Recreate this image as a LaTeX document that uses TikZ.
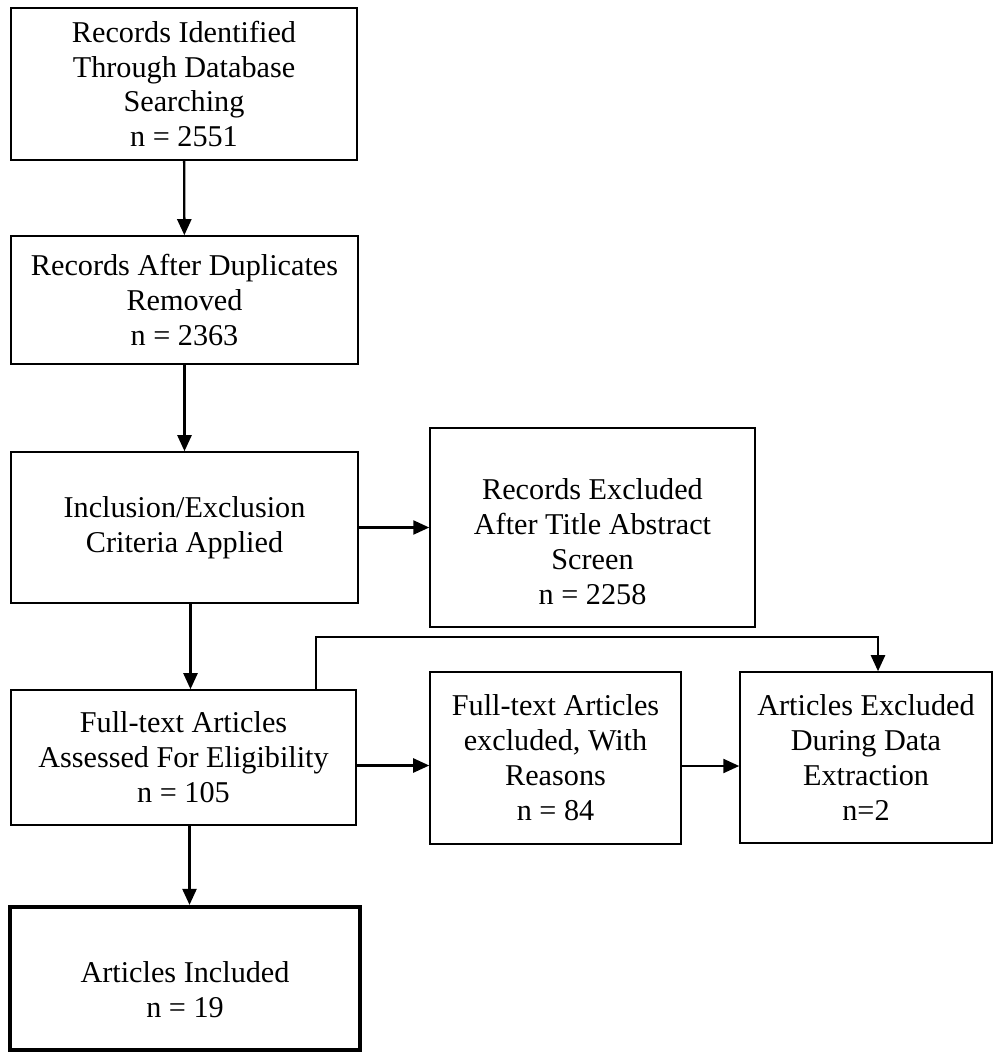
\documentclass[tikz,border=0pt]{standalone}
\usepackage{fontspec}
\setmainfont{Liberation Serif}
\usepackage{tikz}
\usetikzlibrary{arrows.meta,positioning,calc}

\tikzset{
    box/.style={draw,line width=0.9pt,rectangle,align=center,inner sep=2pt,
        font=\fontsize{17.2}{19.9}\selectfont},
    finalbox/.style={box,line width=2.4pt},
    arr/.style={-{Triangle[length=0.32cm,width=0.28cm]},line width=1.35pt}
}

\begin{document}
\begin{tikzpicture}[x=0.02cm,y=-0.02cm]
        \useasboundingbox (0,0) rectangle (993,1053);

        % Left column boxes
        \node[box,minimum width=6.92cm,minimum height=3.04cm] (ident) at (184,84)
            {Records Identified\\Through Database\\Searching\\n = 2551};
        \node[box,minimum width=6.94cm,minimum height=2.56cm] (dup) at (184.5,300)
            {Records After Duplicates\\Removed\\n = 2363};
        \node[box,minimum width=6.94cm,minimum height=3.02cm] (crit) at (184.5,527.5)
            {Inclusion/Exclusion\\Criteria Applied};
        \node[box,minimum width=6.9cm,minimum height=2.7cm] (full) at (183.5,757.5)
            {Full-text Articles\\Assessed For Eligibility\\n = 105};
        \node[finalbox,minimum width=7cm,minimum height=2.86cm] (incl) at (185,978.5)
            {\rule{0pt}{0.88cm}Articles Included\\n = 19};

        % Right side boxes
        \node[box,minimum width=6.5cm,minimum height=3.98cm] (titleexcl) at (592.5,527.5)
            {\rule{0pt}{1cm}Records Excluded\\After Title Abstract\\Screen\\n = 2258};
        \node[box,minimum width=5.02cm,minimum height=3.44cm] (ftexcl) at (555.5,758)
            {Full-text Articles\\excluded, With\\Reasons\\n = 84};
        \node[box,minimum width=5.04cm,minimum height=3.42cm] (dataexcl) at (866,757.5)
            {Articles Excluded\\During Data\\Extraction\\n=2};

        % Corners of the bent arrow
        \coordinate (elbow) at (316,637);
        \coordinate (drop) at (878,637);

        % Arrows down the left column
        \draw[arr] (ident) -- (dup);
        \draw[arr] (dup) -- (crit);
        \draw[arr] ([xshift=0.12cm]crit.south) -- ([xshift=0.12cm]crit.south |- full.north);
        \draw[arr] ([xshift=0.12cm]full.south) -- ([xshift=0.12cm]full.south |- incl.north);

        % Arrows to the right
        \draw[arr] (crit.east) -- (titleexcl.west);
        \draw[arr] ([yshift=-0.16cm]full.east) -- ([yshift=-0.16cm]full.east -| ftexcl.west);
        \draw[arr] ([yshift=-0.16cm]ftexcl.east) -- ([yshift=-0.16cm]ftexcl.east -| dataexcl.west);
        \draw[arr] (full.north -| elbow) -- (elbow) -- (drop) -- (dataexcl.north -| drop);
\end{tikzpicture}
\end{document}
